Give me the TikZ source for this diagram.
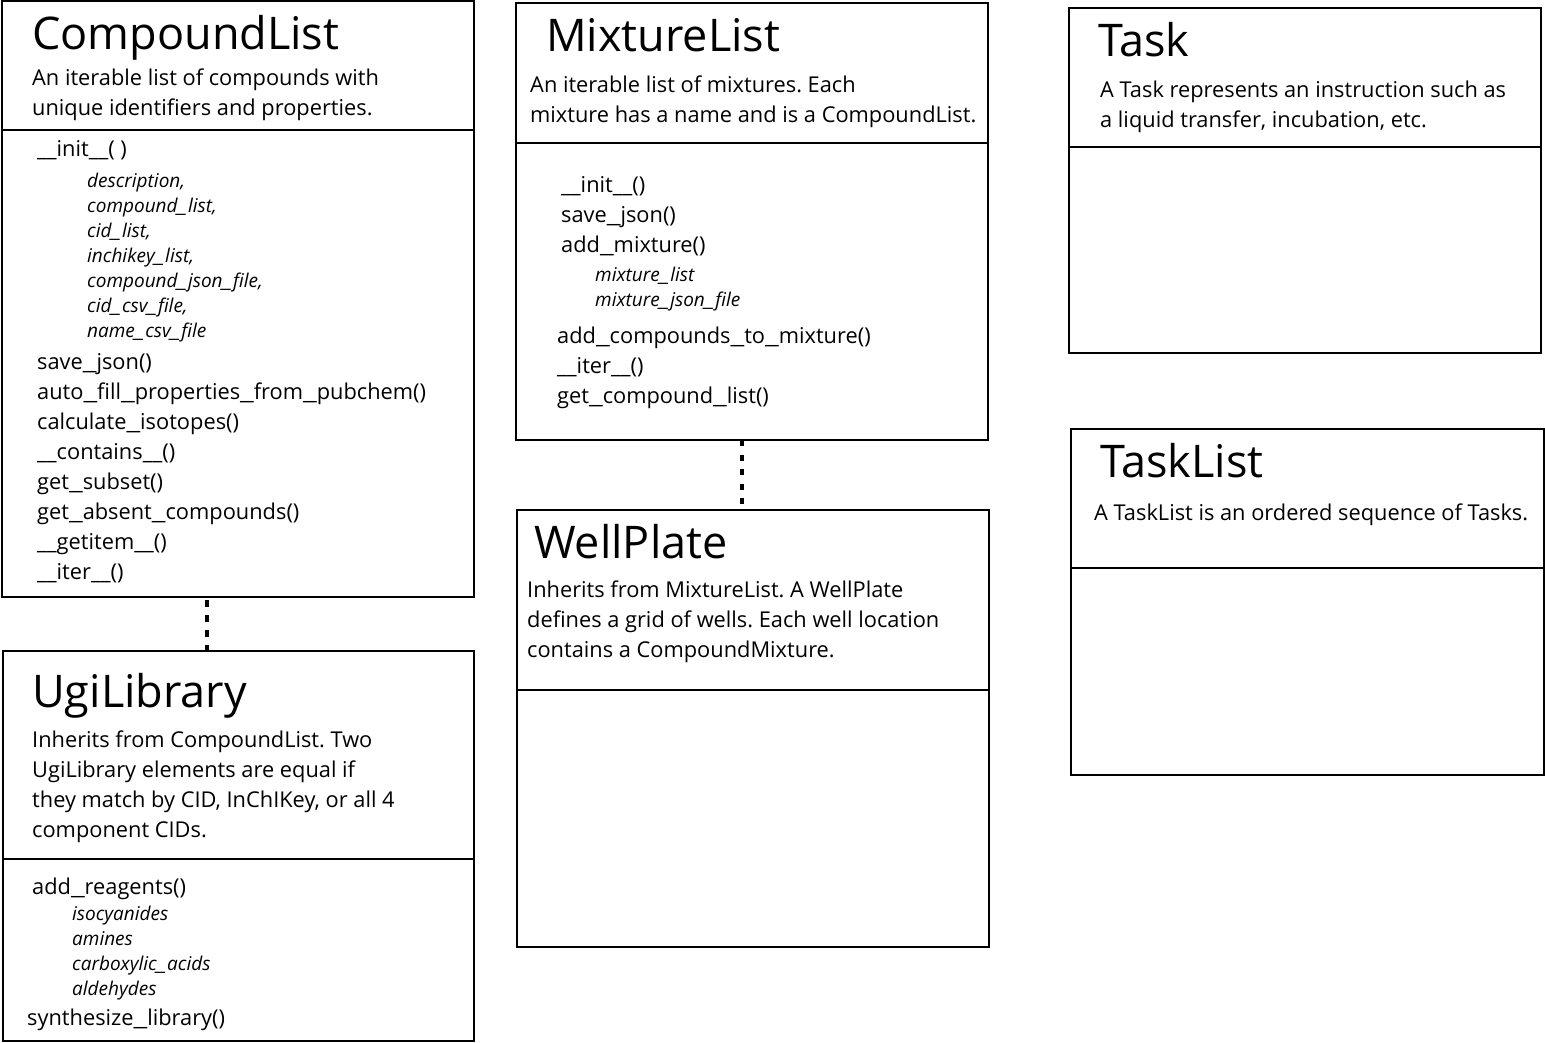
\documentclass[tikz,border=0pt]{standalone}
\usepackage{fontspec}
\usepackage{graphicx}
\setmainfont{Open Sans}
\usetikzlibrary{positioning}
\newcommand{\us}{\scalebox{1.4}[1]{\_}}
\frenchspacing

\begin{document}
\begin{tikzpicture}[x=1pt,y=-1pt,
        classbox/.style={draw,line width=1.6pt,inner sep=0pt,outer sep=0pt,anchor=north west},
        divider/.style={line width=1.6pt},
        classname/.style={anchor=base west,inner sep=0pt,font=\fontsize{45}{45}\selectfont},
        note/.style={anchor=base west,inner sep=0pt,align=left,font=\fontsize{21.8}{30}\selectfont},
        param/.style={anchor=base west,inner sep=0pt,align=left,font=\fontsize{19}{25}\selectfont\itshape},
        inherit/.style={line width=3.3pt,dash pattern=on 7pt off 8pt}]
    \useasboundingbox (0,0) rectangle (1545,1043);

    % classes
    \node[classbox,minimum width=472pt,minimum height=596pt] (compoundlist) at (2,1) {};
    \node[classbox,minimum width=471pt,minimum height=390pt] (ugilibrary) at (3,651) {};
    \node[classbox,minimum width=472pt,minimum height=437pt] (mixturelist) at (516,3) {};
    \node[classbox,minimum width=472pt,minimum height=437pt] (wellplate) at (517,510) {};
    \node[classbox,minimum width=472pt,minimum height=345pt] (task) at (1069,8) {};
    \node[classbox,minimum width=473pt,minimum height=346pt] (tasklist) at (1071,429) {};

    \draw[divider] (compoundlist.west |- 0,130) -- (compoundlist.east |- 0,130);
    \draw[divider] (ugilibrary.west |- 0,859) -- (ugilibrary.east |- 0,859);
    \draw[divider] (mixturelist.west |- 0,143) -- (mixturelist.east |- 0,143);
    \draw[divider] (wellplate.west |- 0,690) -- (wellplate.east |- 0,690);
    \draw[divider] (task.west |- 0,147) -- (task.east |- 0,147);
    \draw[divider] (tasklist.west |- 0,568) -- (tasklist.east |- 0,568);

    % CompoundList (multi-line nodes sit on their last line)
    \node[classname] (cl-name) at (32,50) {CompoundList};
    \node[note] (cl-note) at (32,116) {An iterable list of compounds with\\unique identifiers and properties.};
    \node[note] (cl-init) at (37,157) {\_\_init\_\_( )};
    \node[param] (cl-args) at (87,337) {description,\\compound\us list,\\cid\us list,\\inchikey\us list,\\compound\us json\us file,\\cid\us csv\us file,\\name\us csv\us file};
    \node[note] (cl-methods) at (37,579) {save\us json()\\auto\us fill\us properties\us from\us pubchem()\\calculate\us isotopes()\\\_\_contains\_\_()\\get\us subset()\\get\us absent\us compounds()\\\_\_getitem\_\_()\\\_\_iter\_\_()};

    % UgiLibrary
    \node[classname] (ul-name) at (32,707) {UgiLibrary};
    \node[note] (ul-note) at (32,837) {Inherits from CompoundList. Two\\UgiLibrary elements are equal if\\they match by CID, InChIKey, or all 4\\component CIDs.};
    \node[note] (ul-add) at (32,894) {add\us reagents()};
    \node[param] (ul-args) at (72,995) {isocyanides\\amines\\carboxylic\us acids\\aldehydes};
    \node[note] (ul-synth) at (27,1025) {synthesize\us library()};

    % MixtureList
    \node[classname] (ml-name) at (546,52) {MixtureList};
    \node[note] (ml-note) at (530,123) {An iterable list of mixtures. Each\\mixture has a name and is a CompoundList.};
    \node[note] (ml-methods) at (561,252) {\_\_init\_\_()\\save\us json()\\add\us mixture()};
    \node[param] (ml-args) at (595,306) {mixture\us list\\mixture\us json\us file};
    \node[note] (ml-more) at (557,403) {add\us compounds\us to\us mixture()\\\_\_iter\_\_()\\get\us compound\us list()};

    % WellPlate
    \node[classname] (wp-name) at (534,558) {WellPlate};
    \node[note] (wp-note) at (527,657) {Inherits from MixtureList. A WellPlate\\defines a grid of wells. Each well location\\contains a CompoundMixture.};

    % Task
    \node[classname] (tk-name) at (1098,57) {Task};
    \node[note] (tk-note) at (1100,128) {A Task represents an instruction such as\\a liquid transfer, incubation, etc.};

    % TaskList
    \node[classname] (tl-name) at (1100,477) {TaskList};
    \node[note] (tl-note) at (1094,520) {A TaskList is an ordered sequence of Tasks.};

    % inheritance
    \draw[inherit,dash phase=12pt] ([xshift=-31pt]compoundlist.south) -- ([xshift=-31.5pt]ugilibrary.north);
    \draw[inherit,dash pattern=on 6pt off 8.5pt] ([xshift=-10pt]mixturelist.south) -- ([xshift=-11pt]wellplate.north);
\end{tikzpicture}
\end{document}
